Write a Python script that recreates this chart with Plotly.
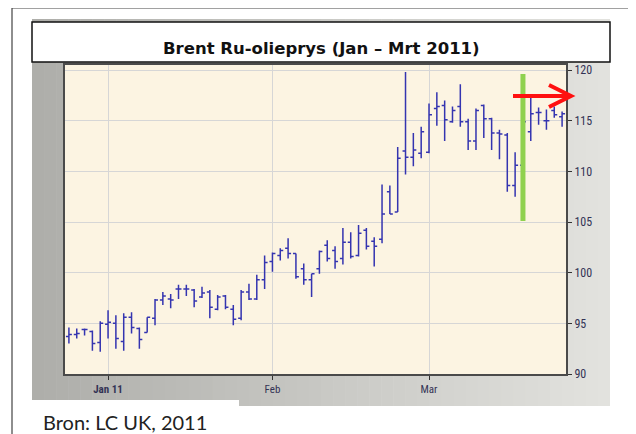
import plotly.graph_objects as go
import pandas as pd

# ---------------- data ----------------
dates = [d.strftime("%Y-%m-%d") for d in pd.bdate_range("2010-12-27", "2011-03-24")]

opens = [93.7, 93.9, 94.4, 94.2, 93.1, 94.9, 95.0, 93.2, 95.6, 94.5,
         94.1, 95.5, 97.3, 97.4, 98.4, 98.4, 98.3, 97.6, 98.1, 96.4,
         97.7, 96.4, 95.5, 98.1, 97.4, 99.3, 101.1, 101.7, 102.4, 101.9,
         100.4, 99.3, 100.4, 102.7, 102.2, 101.4, 103.0, 101.7, 104.2, 103.1,
         103.3, 108.0, 106.0, 112.0, 111.4, 111.8, 111.9, 116.2, 116.5, 114.9,
         116.4, 114.9, 113.0, 116.5, 115.2, 113.8, 113.6, 108.6, 110.6, 113.9,
         115.8, 115.0, 116.0, 115.4]
highs = [94.6, 94.5, 94.5, 94.3, 95.2, 96.3, 95.8, 96.0, 96.1, 94.6,
         95.6, 97.4, 98.1, 97.9, 98.8, 98.8, 98.4, 98.6, 98.3, 97.8,
         97.8, 96.8, 98.3, 98.9, 99.8, 101.7, 102.0, 102.4, 103.4, 101.9,
         100.9, 99.9, 102.2, 103.2, 102.6, 104.4, 104.0, 104.7, 104.4, 103.5,
         108.7, 108.6, 112.4, 119.8, 113.8, 114.4, 116.7, 117.8, 117.0, 116.4,
         118.6, 115.2, 116.2, 116.6, 115.3, 114.1, 113.8, 111.9, 115.4, 117.3,
         116.3, 116.1, 116.4, 115.9]
lows = [93.0, 93.5, 93.8, 92.3, 92.2, 93.5, 92.5, 92.3, 94.0, 92.5,
        94.1, 94.8, 96.8, 96.5, 97.4, 97.7, 96.6, 97.5, 95.5, 96.3,
        96.4, 94.8, 95.3, 97.3, 97.3, 98.4, 100.1, 101.2, 101.4, 99.4,
        98.8, 97.6, 99.9, 101.1, 100.4, 100.8, 101.4, 101.6, 102.3, 100.6,
        102.9, 105.8, 106.0, 109.7, 110.5, 111.3, 111.8, 114.5, 113.0, 114.8,
        114.4, 112.1, 112.1, 113.3, 112.1, 111.2, 108.0, 107.5, 110.2, 113.0,
        114.6, 114.1, 115.3, 114.4]
closes = [93.9, 94.0, 94.4, 93.0, 95.0, 95.1, 93.5, 95.6, 94.6, 93.4,
          95.6, 97.3, 97.7, 97.3, 98.4, 98.4, 97.2, 98.0, 96.6, 97.6,
          96.6, 95.4, 98.1, 97.4, 99.3, 101.0, 101.9, 102.2, 101.9, 99.6,
          99.3, 99.9, 102.1, 101.4, 101.1, 103.0, 101.6, 103.9, 102.6, 102.6,
          105.8, 105.8, 111.3, 111.4, 112.1, 113.9, 115.6, 116.4, 115.1, 116.0,
          114.9, 113.0, 116.0, 115.2, 113.8, 113.7, 108.6, 110.6, 114.9, 115.7,
          115.8, 115.0, 115.6, 115.7]

tick_dates = ["2011-01-03", "2011-02-01", "2011-03-01"]
tick_labels = ["<b>Jan 11</b>", "Feb", "Mar"]
y_ticks = [90, 95, 100, 105, 110, 115, 120]
y_range = [90, 120.5]

title_text = "Brent Ru-olieprys (Jan \u2013 Mrt 2011)"
source_text = "Bron: LC UK, 2011"

highlight_date = "2011-03-17"
highlight_low, highlight_high = 105.1, 119.6

# ---------------- layout geometry ----------------
# screen pixel positions of the plot area (the page body adds an 8px offset)
W, H = 636, 434
OFF = 8
L, R, T, B = 65, 566, 65, 374


def px(x):
    return (x - L) / (R - L)


def py(y):
    return (B - y) / (B - T)


fig = go.Figure()
fig.add_trace(go.Ohlc(
    x=dates, open=opens, high=highs, low=lows, close=closes,
    increasing=dict(line=dict(color="#3434b0", width=1.5)),
    decreasing=dict(line=dict(color="#3434b0", width=1.5)),
    tickwidth=0.38, hoverinfo="skip", showlegend=False,
))

shapes = []
# outer frame
shapes.append(dict(type="rect", xref="paper", yref="paper", layer="below",
                   x0=px(12), x1=px(631), y0=py(450), y1=py(8),
                   line=dict(color="#444444", width=1.2), fillcolor="rgba(0,0,0,0)"))
# gray gradient panel
N = 48
x_start, x_end = 32, 610
c0 = (174, 174, 170)
c1 = (226, 226, 222)
for i in range(N):
    t = i / (N - 1)
    c = tuple(int(round(c0[k] + (c1[k] - c0[k]) * t)) for k in range(3))
    xa = x_start + (x_end - x_start) * i / N
    xb = x_start + (x_end - x_start) * (i + 1) / N + 0.6
    shapes.append(dict(type="rect", xref="paper", yref="paper", layer="below",
                       x0=px(xa), x1=px(min(xb, x_end)), y0=py(406), y1=py(19),
                       line=dict(width=0), fillcolor="rgb(%d,%d,%d)" % c))
# plot background
shapes.append(dict(type="rect", xref="paper", yref="paper", layer="below",
                   x0=0, x1=1, y0=0, y1=1, line=dict(width=0), fillcolor="#fcf4e2"))
# title box
shapes.append(dict(type="rect", xref="paper", yref="paper", layer="below",
                   x0=px(32), x1=px(610), y0=py(62), y1=py(22),
                   line=dict(color="#111111", width=1.5), fillcolor="white"))
# white box bottom-left
shapes.append(dict(type="rect", xref="paper", yref="paper", layer="below",
                   x0=px(31), x1=px(239), y0=py(450), y1=py(400),
                   line=dict(width=0), fillcolor="white"))
# green highlight bar
hi = dates.index(highlight_date)
shapes.append(dict(type="line", xref="x", yref="y", layer="above",
                   x0=hi, x1=hi, y0=highlight_low, y1=highlight_high,
                   line=dict(color="#8fd14f", width=5)))
# red arrow
ay = 96
path = "M %f,%f L %f,%f M %f,%f L %f,%f L %f,%f" % (
    px(513), py(ay), px(569), py(ay),
    px(549), py(ay - 11), px(571), py(ay), px(549), py(ay + 11))
shapes.append(dict(type="path", xref="paper", yref="paper", layer="above",
                   path=path, line=dict(color="#ff1010", width=4)))

annotations = [
    dict(text="<b>" + title_text + "</b>", xref="paper", yref="paper",
         x=px(321), y=py(60), xanchor="center", yanchor="bottom", showarrow=False,
         font=dict(family="DejaVu Sans, sans-serif", size=16.5, color="#111111")),
    dict(text=source_text, xref="paper", yref="paper",
         x=px(41), y=py(408), xanchor="left", yanchor="top", showarrow=False,
         font=dict(family="Lato, DejaVu Sans, sans-serif", size=20, color="#222222")),
]

axis_font = dict(family="Liberation Sans Narrow, Roboto Condensed, Liberation Sans, Arial, sans-serif",
                 size=11, color="#333355")

fig.update_layout(
    width=W, height=H,
    margin=dict(l=L - OFF, r=W - (R - OFF), t=T - OFF, b=H - (B - OFF), pad=0),
    paper_bgcolor="white", plot_bgcolor="#fcf4e2",
    shapes=shapes, annotations=annotations,
    xaxis=dict(type="category", range=[-0.5, len(dates) - 0.5],
               rangeslider=dict(visible=False),
               tickmode="array", tickvals=tick_dates, ticktext=tick_labels,
               ticks="outside", ticklen=4, tickcolor="#333333",
               showgrid=True, gridcolor="#d6d6d6", gridwidth=1,
               showline=True, linecolor="#4a4a4a", linewidth=2, mirror=True,
               tickfont=axis_font, zeroline=False, fixedrange=True),
    yaxis=dict(side="right", range=y_range, tickmode="array", tickvals=y_ticks,
               ticks="outside", ticklen=4, tickcolor="#333333",
               showgrid=True, gridcolor="#d6d6d6", gridwidth=1,
               showline=True, linecolor="#4a4a4a", linewidth=2, mirror=True,
               tickfont=dict(family=axis_font["family"], size=12, color="#333355"),
               zeroline=False, fixedrange=True),
)

fig.write_html("out.html")
